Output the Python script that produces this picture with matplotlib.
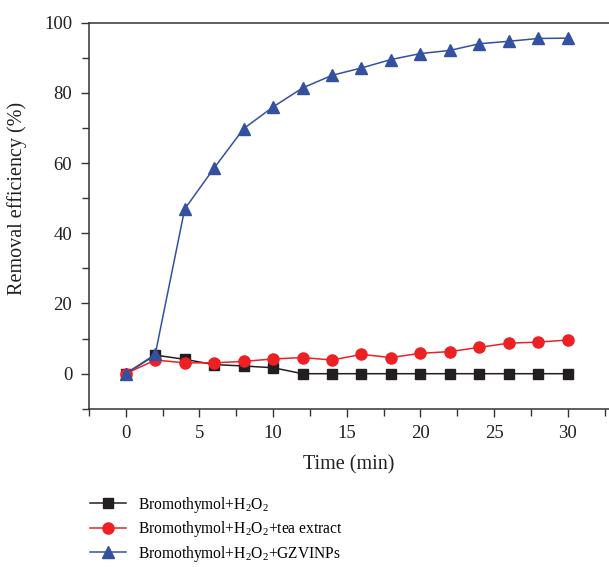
import matplotlib
matplotlib.use("Agg")
import matplotlib.pyplot as plt
from matplotlib.ticker import MultipleLocator

plt.rcParams["font.family"] = "Liberation Serif"
plt.rcParams["mathtext.fontset"] = "custom"
plt.rcParams["mathtext.rm"] = "Liberation Serif"
plt.rcParams["mathtext.it"] = "Liberation Serif:italic"

time = [0, 2, 4, 6, 8, 10, 12, 14, 16, 18, 20, 22, 24, 26, 28, 30]
h2o2 = [0, 5.3, 4.1, 2.6, 2.2, 1.7, 0, 0, 0, 0, 0, 0, 0, 0, 0, 0]
tea = [0, 3.9, 3.1, 3.1, 3.5, 4.2, 4.6, 3.9, 5.5, 4.6, 5.8, 6.3, 7.5, 8.7, 9.0, 9.6]
gzvi = [0, 5.5, 46.9, 58.6, 69.8, 76.0, 81.4, 85.0, 87.1, 89.5, 91.2, 92.1, 94.0, 94.7, 95.5, 95.6]

labels = [
    "Bromothymol+H$_2$O$_2$",
    "Bromothymol+H$_2$O$_2$+tea extract",
    "Bromothymol+H$_2$O$_2$+GZVINPs",
]

fig = plt.figure(figsize=(6.09, 5.67), dpi=100)
ax = fig.add_axes([0.146, 0.279, 0.854, 0.681])

ax.plot(time, h2o2, color="#231f20", marker="s", markersize=7, lw=1.1, label=labels[0], zorder=2)
ax.plot(time, tea, color="#ed2024", marker="o", markersize=8, lw=1.1, label=labels[1], zorder=3)
ax.plot(time, gzvi, color="#3450a0", marker="^", markersize=9, lw=1.1, label=labels[2], zorder=4)

ax.set_xlim(-2.5, 32.8)
ax.set_ylim(-10, 100)
ax.xaxis.set_major_locator(MultipleLocator(5))
ax.xaxis.set_minor_locator(MultipleLocator(2.5))
ax.yaxis.set_major_locator(MultipleLocator(20))
ax.yaxis.set_minor_locator(MultipleLocator(10))
ax.tick_params(which="both", direction="out", color="#333333", labelsize=13.5, labelcolor="#231f20")
ax.tick_params(which="major", length=6, width=1, pad=6)
ax.tick_params(which="minor", length=5, width=1)

ax.spines["right"].set_visible(False)
for s in ["left", "bottom", "top"]:
    ax.spines[s].set_color("#333333")
    ax.spines[s].set_linewidth(1.1)

ax.set_xlabel("Time (min)", fontsize=14.5, color="#231f20", labelpad=9)
ax.set_ylabel("Removal efficiency (%)", fontsize=14.5, color="#231f20")
ax.yaxis.set_label_coords(-0.12, 0.545)

fig.legend(loc="upper left", bbox_to_anchor=(0.125, 0.152), frameon=False,
           fontsize=11.2, handlelength=2.3, labelspacing=0.28, handletextpad=0.8)

fig.savefig("out.png", dpi=100)
